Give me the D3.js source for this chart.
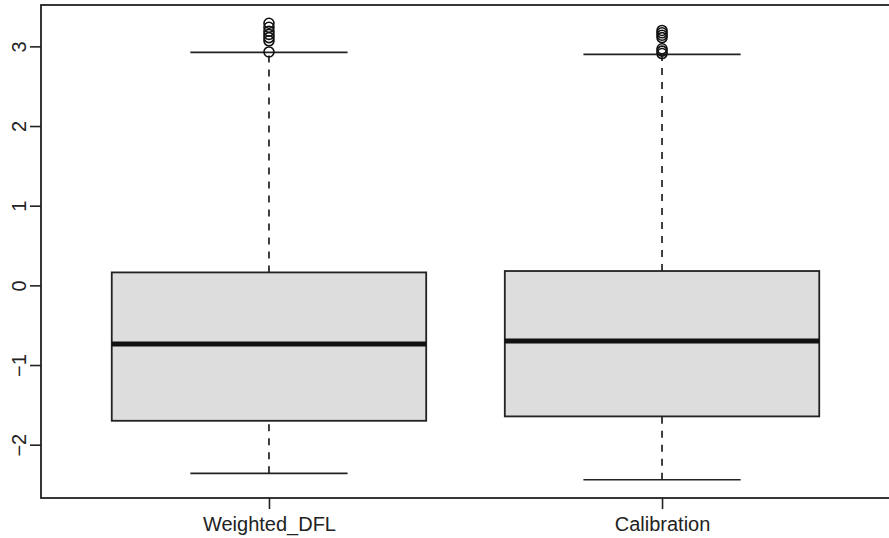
<!DOCTYPE html>
<html>
<head>
<meta charset="utf-8">
<script src="https://cdn.jsdelivr.net/npm/d3@7/dist/d3.min.js"></script>
<style>
  html, body { margin: 0; padding: 0; background: #fff; }
  svg { display: block; font-family: "Liberation Sans", Arial, sans-serif; }
</style>
</head>
<body>
<svg id="chart" width="889" height="538"></svg>
<script>
// Box summaries per group
const categories = ["Weighted_DFL", "Calibration"];
const lowerWhisker = [-2.36, -2.44];
const q1 = [-1.70, -1.645];
const median = [-0.7375, -0.70];
const q3 = [0.1625, 0.18];
const upperWhisker = [2.925, 2.90];
const outliers = [
  [3.29, 3.24, 3.19, 3.15, 3.11, 3.07, 2.93],
  [3.20, 3.17, 3.14, 3.11, 2.97, 2.94, 2.91]
];
const yTicks = [-2, -1, 0, 1, 2, 3];

const svg = d3.select("#chart");
const margin = { left: 41, right: -1, top: 5, bottom: 40 };
const W = 889, H = 538;

// Group positions 1..n on a continuous scale, padded like base boxplots
const x = d3.scaleLinear()
  .domain([0.42, 2.58])
  .range([margin.left, W - margin.right]);

const allVals = lowerWhisker.concat(upperWhisker, outliers.flat());
const lo = d3.min(allVals), hi = d3.max(allVals), pad = (hi - lo) * 0.04;
const y = d3.scaleLinear()
  .domain([lo - pad, hi + pad])
  .range([H - margin.bottom, margin.top]);

const boxW = 0.8, capW = 0.4;

const g = svg.append("g");

categories.forEach((c, i) => {
  const cx = x(i + 1);
  const grp = g.append("g");
  // dashed whiskers
  [[lowerWhisker[i], q1[i]], [q3[i], upperWhisker[i]]].forEach(([a, b]) => {
    grp.append("line")
      .attr("x1", cx).attr("x2", cx)
      .attr("y1", y(a)).attr("y2", y(b))
      .attr("stroke", "#111").attr("stroke-width", 1.6)
      .attr("stroke-dasharray", "7,7");
  });
  // whisker caps
  [lowerWhisker[i], upperWhisker[i]].forEach(v => {
    grp.append("line")
      .attr("x1", x(i + 1 - capW / 2)).attr("x2", x(i + 1 + capW / 2))
      .attr("y1", y(v)).attr("y2", y(v))
      .attr("stroke", "#222").attr("stroke-width", 1.6);
  });
  // box
  grp.append("rect")
    .attr("x", x(i + 1 - boxW / 2))
    .attr("width", x(i + 1 + boxW / 2) - x(i + 1 - boxW / 2))
    .attr("y", y(q3[i]))
    .attr("height", y(q1[i]) - y(q3[i]))
    .attr("fill", "#dddddd")
    .attr("stroke", "#222").attr("stroke-width", 1.8);
  // median
  grp.append("line")
    .attr("x1", x(i + 1 - boxW / 2)).attr("x2", x(i + 1 + boxW / 2))
    .attr("y1", y(median[i])).attr("y2", y(median[i]))
    .attr("stroke", "#111").attr("stroke-width", 5);
  // outliers
  grp.selectAll("circle.out")
    .data(outliers[i])
    .join("circle")
    .attr("class", "out")
    .attr("cx", cx)
    .attr("cy", d => y(d))
    .attr("r", 5)
    .attr("fill", "none")
    .attr("stroke", "#111")
    .attr("stroke-width", 1.6);
});

// plot frame
svg.append("rect")
  .attr("x", margin.left).attr("y", margin.top)
  .attr("width", W - margin.right - margin.left)
  .attr("height", H - margin.bottom - margin.top)
  .attr("fill", "none").attr("stroke", "#222").attr("stroke-width", 1.8);

// y axis
const yAxis = svg.append("g")
  .attr("transform", `translate(${margin.left},0)`)
  .call(d3.axisLeft(y).tickValues(yTicks).tickSize(11).tickFormat(d => d < 0 ? "\u2212" + Math.abs(d) : d));
yAxis.select(".domain").remove();
yAxis.selectAll(".tick line").attr("stroke", "#222").attr("stroke-width", 1.6);
yAxis.selectAll(".tick text")
  .attr("font-size", 20)
  .attr("fill", "#222")
  .attr("font-family", "Liberation Sans, Arial, sans-serif")
  .attr("text-anchor", "middle")
  .attr("dy", null)
  .attr("x", null)
  .attr("transform", "translate(-15,0) rotate(-90)")
  .attr("y", 0);

// x axis
const xAxis = svg.append("g")
  .attr("transform", `translate(0,${H - margin.bottom})`)
  .call(d3.axisBottom(x).tickValues([1, 2]).tickSize(11).tickFormat((d) => categories[d - 1]));
xAxis.select(".domain").remove();
xAxis.selectAll(".tick line").attr("stroke", "#222").attr("stroke-width", 1.6);
xAxis.selectAll(".tick text")
  .attr("font-size", 20)
  .attr("fill", "#222")
  .attr("font-family", "Liberation Sans, Arial, sans-serif")
  .attr("dy", null)
  .attr("y", 33);
</script>
</body>
</html>
